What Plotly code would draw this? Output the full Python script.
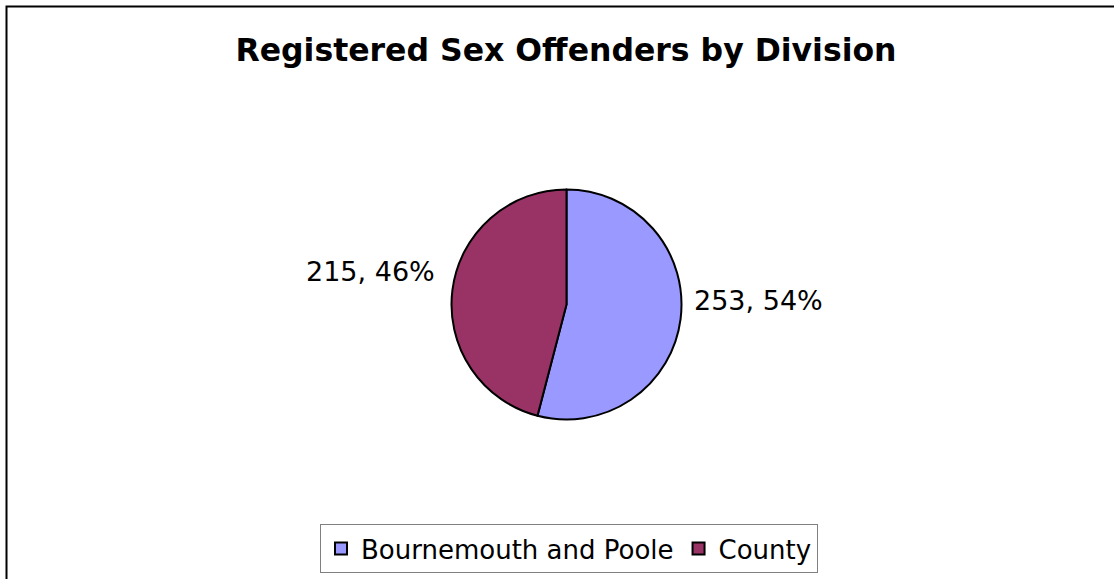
import plotly.graph_objects as go

categories = ["Bournemouth and Poole", "County"]
values = [253, 215]
colors = ["#9999FF", "#993366"]
title_text = "Registered Sex Offenders by Division"

W, H = 1114, 579
cx, cy, r = 566.5, 304.5, 115
total = sum(values)
label_texts = [f"{v}, {round(100 * v / total)}%" for v in values]

fig = go.Figure()
fig.add_trace(go.Pie(
    labels=categories,
    values=values,
    sort=False,
    direction="clockwise",
    rotation=0,
    marker=dict(colors=colors, line=dict(color="black", width=2)),
    textinfo="none",
    hoverinfo="label+value+percent",
    domain=dict(x=[(cx - r) / W, (cx + r) / W], y=[(H - cy - r) / H, (H - cy + r) / H]),
))

font_fam = "DejaVu Sans, Arial"
annotations = [
    dict(text=label_texts[0], x=692 / W, y=1 - 300 / H, xref="paper", yref="paper",
         xanchor="left", yanchor="middle", showarrow=False,
         font=dict(family=font_fam, size=27, color="black")),
    dict(text=label_texts[1], x=437 / W, y=1 - 271 / H, xref="paper", yref="paper",
         xanchor="right", yanchor="middle", showarrow=False,
         font=dict(family=font_fam, size=27, color="black")),
]

fig.update_layout(
    width=W, height=H,
    margin=dict(l=0, r=0, t=0, b=0),
    paper_bgcolor="white",
    plot_bgcolor="white",
    title=dict(text="<b>" + title_text + "</b>", x=566 / W, xanchor="center", y=1 - 50 / H, yanchor="middle",
               font=dict(family=font_fam, size=31.5, color="black")),
    showlegend=True,
    legend=dict(orientation="h", x=569 / W, xanchor="center", y=1 - 524 / H, yanchor="top",
                bordercolor="#808080", borderwidth=1,
                font=dict(family=font_fam, size=26, color="black")),
    annotations=annotations,
    shapes=[dict(type="rect", xref="paper", yref="paper", x0=6.5 / W, x1=1.05, y0=-0.05, y1=1 - 6.5 / H,
                 line=dict(color="black", width=2))],
)

fig.write_html("out.html", config={"displayModeBar": False},
               post_script="document.body.style.margin='0';")
